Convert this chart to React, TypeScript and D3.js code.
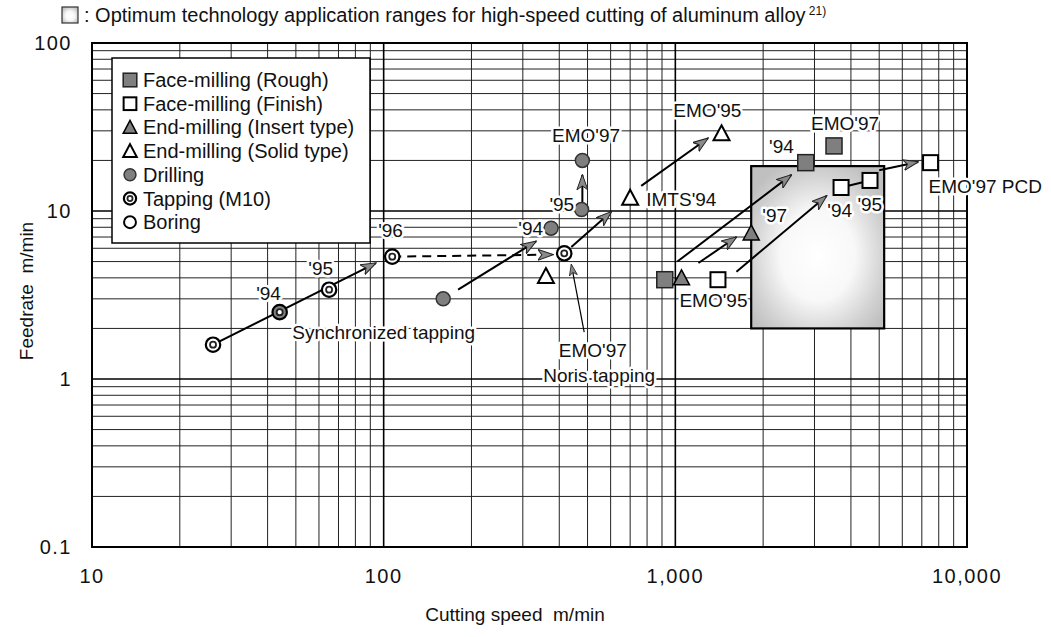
import React from 'react';
import * as d3 from 'd3';

const W = 1051;
const H = 637;
const FONT = '"Liberation Sans", Arial, Helvetica, sans-serif';

// Axis ticks
const xTickValues = [10, 100, 1000, 10000];
const xTickLabels = ['10', '100', '1,000', '10,000'];
const yTickValues = [0.1, 1, 10, 100];
const yTickLabels = ['0.1', '1', '10', '100'];

// Series (cutting speed m/min, feedrate m/min)
const faceRough = [
  { x: 920, y: 3.9 },
  { x: 2800, y: 19.4 },
  { x: 3500, y: 24.4 },
];
const faceFinish = [
  { x: 1400, y: 3.9 },
  { x: 3700, y: 13.8 },
  { x: 4650, y: 15.2 },
  { x: 7500, y: 19.4 },
];
const endInsert = [
  { x: 1050, y: 4.0 },
  { x: 1820, y: 7.4 },
];
const endSolid = [
  { x: 360, y: 4.1 },
  { x: 700, y: 12 },
  { x: 1440, y: 29 },
];
const drilling = [
  { x: 160, y: 3.0 },
  { x: 375, y: 7.9 },
  { x: 477, y: 10.2 },
  { x: 480, y: 20 },
];
const tapping = [
  { x: 26, y: 1.6, gray: false },
  { x: 44, y: 2.5, gray: true },
  { x: 65, y: 3.4, gray: false },
  { x: 107, y: 5.35, gray: false },
  { x: 416, y: 5.6, gray: false },
];

// Optimum range box
const optimumRange = { x0: 1820, x1: 5200, y0: 2.0, y1: 18.5 };

// Arrows [from, to]
const solidArrows = [
  { x1: 26, y1: 1.6, x2: 94, y2: 4.9 },
  { x1: 180, y1: 3.4, x2: 333, y2: 6.6 },
  { x1: 480, y1: 11.3, x2: 480, y2: 16.4 },
  { x1: 440, y1: 6.1, x2: 603, y2: 9.9 },
  { x1: 764, y1: 14.1, x2: 1294, y2: 27.1 },
  { x1: 1016, y1: 5.0, x2: 2500, y2: 16.4 },
  { x1: 1200, y1: 4.9, x2: 1620, y2: 7.0 },
  { x1: 1620, y1: 4.35, x2: 3300, y2: 12.3 },
  { x1: 5000, y1: 17.5, x2: 6800, y2: 19.6 },
];
const dashedArrows = [{ x1: 107, y1: 5.35, x2: 380, y2: 5.5 }];
const thinArrows = [{ x1: 487, y1: 1.9, x2: 440, y2: 4.8 }];
const plainLinks = [{ x1: 3700, y1: 13.8, x2: 4650, y2: 15.2 }];

// Annotations
const annotations = [
  { x: 40.3, y: 3.25, text: "'94", anchor: 'middle' },
  { x: 60.8, y: 4.58, text: "'95", anchor: 'middle' },
  { x: 105.6, y: 7.7, text: "'96", anchor: 'middle' },
  { x: 100, y: 1.9, text: 'Synchronized tapping', anchor: 'middle' },
  { x: 352, y: 7.9, text: "'94", anchor: 'end' },
  { x: 408, y: 10.9, text: "'95", anchor: 'middle' },
  { x: 494, y: 28.3, text: "EMO'97", anchor: 'middle' },
  { x: 795, y: 11.7, text: "IMTS'94", anchor: 'start' },
  { x: 1288, y: 39.9, text: "EMO'95", anchor: 'middle' },
  { x: 1351, y: 2.95, text: "EMO'95", anchor: 'middle' },
  { x: 2312, y: 24.1, text: "'94", anchor: 'middle' },
  { x: 3817, y: 33.3, text: "EMO'97", anchor: 'middle' },
  { x: 2192, y: 9.47, text: "'97", anchor: 'middle' },
  { x: 3661, y: 10.1, text: "'94", anchor: 'middle' },
  { x: 4642, y: 10.9, text: "'95", anchor: 'middle' },
  { x: 7380, y: 13.95, text: "EMO'97 PCD", anchor: 'start' },
  { x: 521, y: 1.49, text: "EMO'97", anchor: 'middle' },
  { x: 548, y: 1.05, text: 'Noris tapping', anchor: 'middle' },
];

const legendItems = [
  { sym: 'rough', label: 'Face-milling (Rough)' },
  { sym: 'finish', label: 'Face-milling (Finish)' },
  { sym: 'insert', label: 'End-milling (Insert type)' },
  { sym: 'solid', label: 'End-milling (Solid type)' },
  { sym: 'drill', label: 'Drilling' },
  { sym: 'tap', label: 'Tapping (M10)' },
  { sym: 'boring', label: 'Boring' },
];

const GRAY = '#7f7f7f';

function Symbol({ type, cx, cy, s = 1 }: { type: string; cx: number; cy: number; s?: number }) {
  switch (type) {
    case 'rough': {
      const a = 16 * s;
      return <rect x={cx - a / 2} y={cy - a / 2} width={a} height={a} fill={GRAY} stroke="#222" strokeWidth={1.5} />;
    }
    case 'finish': {
      const a = 15 * s;
      return <rect x={cx - a / 2} y={cy - a / 2} width={a} height={a} fill="#fff" stroke="#000" strokeWidth={2} />;
    }
    case 'insert':
    case 'solid': {
      const w = 16 * s;
      const h = 14 * s;
      const p = `M${cx},${cy - h / 2 - 1} L${cx + w / 2},${cy + h / 2} L${cx - w / 2},${cy + h / 2} Z`;
      return (
        <path
          d={p}
          fill={type === 'insert' ? GRAY : '#fff'}
          stroke="#000"
          strokeWidth={type === 'insert' ? 1.5 : 2}
          strokeLinejoin="miter"
        />
      );
    }
    case 'drill':
      return <circle cx={cx} cy={cy} r={7 * s} fill={GRAY} stroke="#333" strokeWidth={1.5} />;
    case 'tap':
    case 'tapGray':
      return (
        <g>
          <circle cx={cx} cy={cy} r={7.2 * s} fill={type === 'tapGray' ? GRAY : '#fff'} stroke="#000" strokeWidth={2.2} />
          <circle cx={cx} cy={cy} r={3 * s} fill="#fff" stroke="#222" strokeWidth={1.8} />
        </g>
      );
    case 'boring':
      return <circle cx={cx} cy={cy} r={7 * s} fill="#fff" stroke="#000" strokeWidth={2} />;
    default:
      return null;
  }
}

export default function App() {
  const left = 92;
  const right = 967;
  const top = 43;
  const bottom = 547;

  const x = d3.scaleLog().domain([10, 10000]).range([left, right]);
  const y = d3.scaleLog().domain([0.1, 100]).range([bottom, top]);

  const xMinor: number[] = [];
  const yMinor: number[] = [];
  [10, 100, 1000].forEach((d) => {
    for (let k = 2; k <= 9; k++) xMinor.push(d * k);
  });
  [0.1, 1, 10].forEach((d) => {
    for (let k = 2; k <= 9; k++) yMinor.push(d * k);
  });

  const halo = {
    paintOrder: 'stroke' as const,
    stroke: '#fff',
    strokeWidth: 5,
    strokeLinejoin: 'round' as const,
  };

  const legendX = 112;
  const legendY = 58;
  const legendW = 258;
  const legendH = 185;

  return (
    <svg
      width={W}
      height={H}
      style={{ position: 'absolute', left: 0, top: 0, background: '#fff' }}
      fontFamily={FONT}
    >
      <defs>
        <radialGradient id="optGrad" cx="50%" cy="55%" r="62%">
          <stop offset="0%" stopColor="#ffffff" />
          <stop offset="45%" stopColor="#f8f8f8" />
          <stop offset="80%" stopColor="#d2d2d2" />
          <stop offset="100%" stopColor="#c0c0c0" />
        </radialGradient>
        <marker
          id="arrowHead"
          viewBox="0 0 16 12"
          refX="15"
          refY="6"
          markerWidth="16"
          markerHeight="12"
          markerUnits="userSpaceOnUse"
          orient="auto"
        >
          <path d="M0,0.5 L15.5,6 L0,11.5 L4,6 Z" fill="#8a8a8a" stroke="#222" strokeWidth={1} strokeLinejoin="miter" />
        </marker>
        <marker
          id="arrowThin"
          viewBox="0 0 12 10"
          refX="11"
          refY="5"
          markerWidth="12"
          markerHeight="10"
          markerUnits="userSpaceOnUse"
          orient="auto"
        >
          <path d="M0,1 L11.5,5 L0,9 L3,5 Z" fill="#8a8a8a" stroke="#222" strokeWidth={0.8} />
        </marker>
        <clipPath id="plotClip">
          <rect x={left} y={top} width={right - left} height={bottom - top} />
        </clipPath>
      </defs>

      <rect x={0} y={0} width={W} height={H} fill="#fff" />

      {/* Caption */}
      <rect x={62} y={7} width={16} height={16} fill="url(#optGrad)" stroke="#333" strokeWidth={1.2} />
      <text x={84} y={22} fontSize={20} fill="#111">
        : Optimum technology application ranges for high-speed cutting of aluminum alloy
        <tspan fontSize={12} dy={-7}> 21)</tspan>
      </text>

      {/* Grid */}
      <g clipPath="url(#plotClip)">
        {xMinor.map((v) => (
          <line key={`xm${v}`} x1={x(v)} x2={x(v)} y1={top} y2={bottom} stroke="#222" strokeWidth={1} />
        ))}
        {yMinor.map((v) => (
          <line key={`ym${v}`} x1={left} x2={right} y1={y(v)} y2={y(v)} stroke="#222" strokeWidth={1} />
        ))}
        {xTickValues.map((v) => (
          <line key={`xM${v}`} x1={x(v)} x2={x(v)} y1={top} y2={bottom} stroke="#000" strokeWidth={1.6} />
        ))}
        {yTickValues.map((v) => (
          <line key={`yM${v}`} x1={left} x2={right} y1={y(v)} y2={y(v)} stroke="#000" strokeWidth={1.6} />
        ))}
      </g>

      {/* Optimum range box */}
      <rect
        x={x(optimumRange.x0)}
        y={y(optimumRange.y1)}
        width={x(optimumRange.x1) - x(optimumRange.x0)}
        height={y(optimumRange.y0) - y(optimumRange.y1)}
        fill="url(#optGrad)"
        stroke="#000"
        strokeWidth={2.2}
      />

      {/* Plot frame */}
      <rect x={left} y={top} width={right - left} height={bottom - top} fill="none" stroke="#000" strokeWidth={2} />

      {/* Legend */}
      <rect x={legendX} y={legendY} width={legendW} height={legendH} fill="#fff" stroke="#000" strokeWidth={1.5} />
      {legendItems.map((it, i) => {
        const cy = 80 + i * 23.7;
        return (
          <g key={it.label}>
            <Symbol type={it.sym} cx={130} cy={cy} s={0.85} />
            <text x={143} y={cy} dy="0.35em" fontSize={20} fill="#111">
              {it.label}
            </text>
          </g>
        );
      })}

      {/* Links and arrows */}
      {plainLinks.map((a, i) => (
        <line key={`pl${i}`} x1={x(a.x1)} y1={y(a.y1)} x2={x(a.x2)} y2={y(a.y2)} stroke="#000" strokeWidth={2} />
      ))}
      {solidArrows.map((a, i) => (
        <line
          key={`sa${i}`}
          x1={x(a.x1)}
          y1={y(a.y1)}
          x2={x(a.x2)}
          y2={y(a.y2)}
          stroke="#000"
          strokeWidth={2}
          markerEnd="url(#arrowHead)"
        />
      ))}
      {dashedArrows.map((a, i) => (
        <line
          key={`da${i}`}
          x1={x(a.x1)}
          y1={y(a.y1)}
          x2={x(a.x2)}
          y2={y(a.y2)}
          stroke="#000"
          strokeWidth={2}
          strokeDasharray="9,6"
          markerEnd="url(#arrowHead)"
        />
      ))}
      {thinArrows.map((a, i) => (
        <line
          key={`ta${i}`}
          x1={x(a.x1)}
          y1={y(a.y1)}
          x2={x(a.x2)}
          y2={y(a.y2)}
          stroke="#000"
          strokeWidth={1.2}
          markerEnd="url(#arrowThin)"
        />
      ))}

      {/* Points */}
      {faceRough.map((d, i) => (
        <Symbol key={`fr${i}`} type="rough" cx={x(d.x)} cy={y(d.y)} />
      ))}
      {faceFinish.map((d, i) => (
        <Symbol key={`ff${i}`} type="finish" cx={x(d.x)} cy={y(d.y)} />
      ))}
      {endInsert.map((d, i) => (
        <Symbol key={`ei${i}`} type="insert" cx={x(d.x)} cy={y(d.y)} />
      ))}
      {endSolid.map((d, i) => (
        <Symbol key={`es${i}`} type="solid" cx={x(d.x)} cy={y(d.y)} />
      ))}
      {drilling.map((d, i) => (
        <Symbol key={`dr${i}`} type="drill" cx={x(d.x)} cy={y(d.y)} />
      ))}
      {tapping.map((d, i) => (
        <Symbol key={`tp${i}`} type={d.gray ? 'tapGray' : 'tap'} cx={x(d.x)} cy={y(d.y)} />
      ))}

      {/* Annotations */}
      {annotations.map((a, i) => (
        <text
          key={`an${i}`}
          x={x(a.x)}
          y={y(a.y)}
          dy="0.35em"
          textAnchor={a.anchor}
          fontSize={19}
          fill="#111"
          {...halo}
        >
          {a.text}
        </text>
      ))}

      {/* Axis tick labels */}
      {xTickValues.map((v, i) => (
        <text
          key={`xl${v}`}
          x={x(v)}
          y={576}
          dy="0.35em"
          textAnchor="middle"
          fontSize={20}
          letterSpacing={1.5}
          fill="#111"
        >
          {xTickLabels[i]}
        </text>
      ))}
      {yTickValues.map((v, i) => (
        <text
          key={`yl${v}`}
          x={72}
          y={y(v)}
          dy="0.35em"
          textAnchor="end"
          fontSize={20}
          letterSpacing={1.5}
          fill="#111"
        >
          {yTickLabels[i]}
        </text>
      ))}

      {/* Axis titles */}
      <text x={515} y={614} dy="0.35em" textAnchor="middle" fontSize={19} fill="#111" style={{ whiteSpace: 'pre' }}>
        Cutting speed  m/min
      </text>
      <text
        transform={`translate(26,${(top + bottom) / 2 - 4}) rotate(-90)`}
        dy="0.35em"
        textAnchor="middle"
        fontSize={19}
        fill="#111"
        style={{ whiteSpace: 'pre' }}
      >
        Feedrate  m/min
      </text>
    </svg>
  );
}
